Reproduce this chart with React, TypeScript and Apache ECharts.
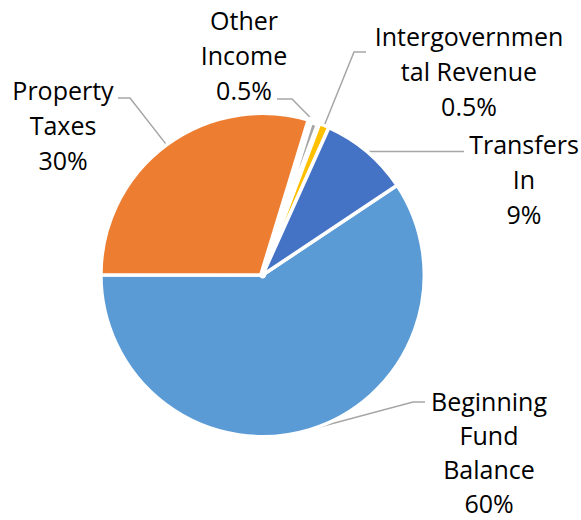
import React, { useEffect, useRef } from "react";
import * as echarts from "echarts";

const categories = [
  "Beginning Fund Balance",
  "Property Taxes",
  "Other Income",
  "Intergovernmental Revenue",
  "Transfers In",
];
const wrappedNames = [
  "Beginning\nFund\nBalance",
  "Property\nTaxes",
  "Other\nIncome",
  "Intergovernmen\ntal Revenue",
  "Transfers\nIn",
];
const values = [60, 30, 0.5, 0.5, 9];
const colors = ["#5B9BD5", "#ED7D31", "#A5A5A5", "#FFC000", "#4472C4"];

// label block centers and leader-line elbows (layout only)
const labelLayouts = [
  { x: 489, y: 451.5, lh: 34, line: [[413, 402], [425, 402]] },
  { x: 63, y: 125, lh: 35, line: [[130, 98], [118, 98]] },
  { x: 244, y: 55, lh: 35, line: [[292, 99], [277, 99]] },
  { x: 469, y: 71, lh: 35, line: [[354, 52], [366, 52]] },
  { x: 524, y: 179, lh: 35, line: [[420, 153], [464, 153]] },
];

export default function App() {
  const ref = useRef<HTMLDivElement>(null);
  useEffect(() => {
    if (!ref.current) return;
    const chart = echarts.init(ref.current, undefined, { renderer: "svg" });
    const data = categories.map((name, i) => ({
      name,
      value: values[i],
      itemStyle: {
        color: colors[i],
        borderColor: "#fff",
        borderWidth: i === 2 ? 7 : 3.5,
      },
      label: { lineHeight: labelLayouts[i].lh },
    }));
    chart.setOption({
      animation: false,
      backgroundColor: "#fff",
      series: [
        {
          type: "pie",
          center: [262.6, 275],
          radius: [0, 161.7],
          startAngle: 33.7,
          clockwise: true,
          minAngle: 3.6,
          avoidLabelOverlap: false,
          data,
          label: {
            show: true,
            position: "outside",
            fontFamily: "Open Sans",
            fontSize: 25,
            lineHeight: 35,
            color: "#000",
            align: "center",
            formatter: (p: any) =>
              `${wrappedNames[p.dataIndex]}\n${values[p.dataIndex]}%`,
          },
          labelLine: {
            show: true,
            smooth: false,
            lineStyle: { color: "#A6A6A6", width: 1.5 },
          },
          labelLayout: (params: any) => {
            const l = labelLayouts[params.dataIndex];
            const pts = params.labelLinePoints;
            const anchor = pts && pts[0] ? [pts[0][0], pts[0][1]] : null;
            const res: any = {
              x: l.x,
              y: l.y,
              align: "center",
              verticalAlign: "middle",
            };
            if (anchor) {
              if (params.dataIndex === 4) {
                res.labelLinePoints = [anchor, [420, anchor[1]], [464, anchor[1]]];
              } else {
                res.labelLinePoints = [anchor, ...l.line];
              }
            }
            return res;
          },
        },
      ],
    });
    return () => chart.dispose();
  }, []);
  return (
    <div
      ref={ref}
      style={{ position: "absolute", left: 0, top: 0, width: 581, height: 520 }}
    />
  );
}
